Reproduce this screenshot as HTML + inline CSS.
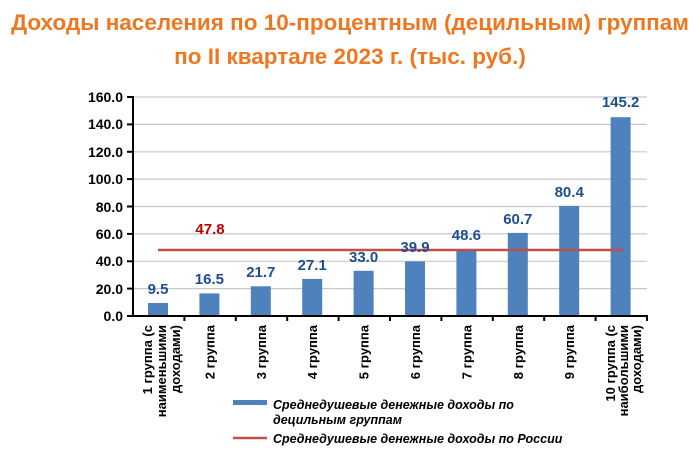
<!DOCTYPE html>
<html><head><meta charset="utf-8"><style>
html,body{margin:0;padding:0;background:#fff;}
svg{display:block;font-family:"Liberation Sans",Arial,sans-serif;}
</style></head><body>
<svg width="700" height="453" viewBox="0 0 700 453" xmlns="http://www.w3.org/2000/svg">
<text x="350" y="30" text-anchor="middle" font-size="22.5" font-weight="bold" fill="#ee7722">Доходы населения по 10-процентным (децильным) группам</text>
<text x="350" y="64" text-anchor="middle" font-size="22.5" font-weight="bold" fill="#ee7722">по II квартале 2023 г. (тыс. руб.)</text>
<g stroke="#c8c8c8" stroke-width="1.2">
<line x1="133" x2="647" y1="97" y2="97"/><line x1="133" x2="647" y1="124.4" y2="124.4"/>
<line x1="133" x2="647" y1="151.8" y2="151.8"/><line x1="133" x2="647" y1="179.1" y2="179.1"/>
<line x1="133" x2="647" y1="206.5" y2="206.5"/><line x1="133" x2="647" y1="233.9" y2="233.9"/>
<line x1="133" x2="647" y1="261.3" y2="261.3"/><line x1="133" x2="647" y1="288.6" y2="288.6"/>
</g>
<g font-size="14" font-weight="bold" fill="#000" text-anchor="end">
<text x="123" y="102">160.0</text><text x="123" y="129">140.0</text><text x="123" y="157">120.0</text>
<text x="123" y="184">100.0</text><text x="123" y="212">80.0</text><text x="123" y="239">60.0</text>
<text x="123" y="266">40.0</text><text x="123" y="294">20.0</text><text x="123" y="321">0.0</text>
</g>
<g fill="#4f81bd">
<rect x="148" y="303" width="20" height="13"/>
<rect x="199.4" y="293.4" width="20" height="22.6"/>
<rect x="250.8" y="286.3" width="20" height="29.7"/>
<rect x="302.2" y="278.9" width="20" height="37.1"/>
<rect x="353.6" y="270.8" width="20" height="45.2"/>
<rect x="405" y="261.4" width="20" height="54.6"/>
<rect x="456.4" y="249.5" width="20" height="66.5"/>
<rect x="507.8" y="232.9" width="20" height="83.1"/>
<rect x="559.2" y="205.9" width="20" height="110.1"/>
<rect x="610.6" y="117.2" width="20" height="198.8"/>
</g>
<line x1="158" x2="623" y1="250" y2="250" stroke="#c0504d" stroke-width="2.5"/>
<g stroke="#000" stroke-width="2">
<line x1="133" x2="133" y1="96" y2="317"/><line x1="132" x2="648" y1="316" y2="316"/>
<line x1="127" x2="133" y1="97" y2="97"/><line x1="127" x2="133" y1="124.4" y2="124.4"/>
<line x1="127" x2="133" y1="151.8" y2="151.8"/><line x1="127" x2="133" y1="179.1" y2="179.1"/>
<line x1="127" x2="133" y1="206.5" y2="206.5"/><line x1="127" x2="133" y1="233.9" y2="233.9"/>
<line x1="127" x2="133" y1="261.3" y2="261.3"/><line x1="127" x2="133" y1="288.6" y2="288.6"/>
<line x1="127" x2="133" y1="316" y2="316"/>
<line x1="184.4" x2="184.4" y1="316" y2="321"/><line x1="235.8" x2="235.8" y1="316" y2="321"/>
<line x1="287.2" x2="287.2" y1="316" y2="321"/><line x1="338.6" x2="338.6" y1="316" y2="321"/>
<line x1="390" x2="390" y1="316" y2="321"/><line x1="441.4" x2="441.4" y1="316" y2="321"/>
<line x1="492.8" x2="492.8" y1="316" y2="321"/><line x1="544.2" x2="544.2" y1="316" y2="321"/>
<line x1="595.6" x2="595.6" y1="316" y2="321"/><line x1="647" x2="647" y1="316" y2="321"/>
</g>
<g font-size="15" font-weight="bold" fill="#1f4e8c" text-anchor="middle">
<text x="158" y="294">9.5</text><text x="209.4" y="284">16.5</text><text x="260.8" y="277">21.7</text>
<text x="312.2" y="270">27.1</text><text x="363.6" y="262">33.0</text><text x="415" y="252">39.9</text>
<text x="466.4" y="240">48.6</text><text x="517.8" y="224">60.7</text><text x="569.2" y="197">80.4</text>
<text x="620.6" y="107">145.2</text>
</g>
<text x="210" y="234" text-anchor="middle" font-size="15" font-weight="bold" fill="#c00000">47.8</text>
<g font-size="13" font-weight="bold" fill="#000" text-anchor="end">
<text transform="translate(152,325) rotate(-90)">1 группа  (с</text>
<text transform="translate(166,325) rotate(-90)">наименьшими</text>
<text transform="translate(180,325) rotate(-90)">доходами)</text>
<text transform="translate(214.4,325) rotate(-90)">2 группа</text>
<text transform="translate(265.8,325) rotate(-90)">3 группа</text>
<text transform="translate(317.2,325) rotate(-90)">4 группа</text>
<text transform="translate(368.6,325) rotate(-90)">5 группа</text>
<text transform="translate(420,325) rotate(-90)">6 группа</text>
<text transform="translate(471.4,325) rotate(-90)">7 группа</text>
<text transform="translate(522.8,325) rotate(-90)">8 группа</text>
<text transform="translate(574.2,325) rotate(-90)">9 группа</text>
<text transform="translate(615,325) rotate(-90)">10 группа  (с</text>
<text transform="translate(628,325) rotate(-90)">наибольшими</text>
<text transform="translate(641,325) rotate(-90)">доходами)</text>
</g>
<rect x="233" y="400" width="34" height="5" fill="#4f81bd"/>
<line x1="233" x2="267" y1="438" y2="438" stroke="#c0504d" stroke-width="2.5"/>
<g font-size="12.5" font-weight="bold" font-style="italic" fill="#000">
<text x="273" y="409">Среднедушевые денежные доходы по</text>
<text x="273" y="424">децильным группам</text>
<text x="273" y="443">Среднедушевые денежные доходы по России</text>
</g>
</svg>
</body></html>
